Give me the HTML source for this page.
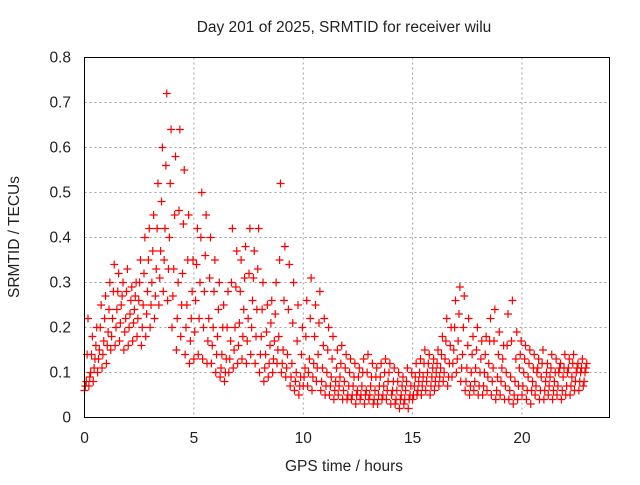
<!DOCTYPE html>
<html><head><meta charset="utf-8"><style>
body{margin:0;background:#fff;}
svg text{font-family:"Liberation Sans",sans-serif;font-size:15.5px;fill:#222;}
</style></head><body>
<svg id="c" width="640" height="480" xmlns="http://www.w3.org/2000/svg">
<text x="344" y="32" text-anchor="middle">Day 201 of 2025, SRMTID for receiver wilu</text>
<text x="344" y="471" text-anchor="middle">GPS time / hours</text>
<text transform="translate(19,237) rotate(-90)" text-anchor="middle">SRMTID / TECUs</text>
<g id="grid"></g><g id="marks"></g>
<rect x="84.5" y="57.5" width="525" height="360" fill="none" stroke="#000" stroke-width="1"/>
</svg>
<script>
const xTicks=[0,5,10,15,20];
const yTicks=[0,0.1,0.2,0.3,0.4,0.5,0.6,0.7,0.8];
const yLabels=["0","0.1","0.2","0.3","0.4","0.5","0.6","0.7","0.8"];
const hours=[];for(let i=0;i<115;i++)hours.push(+(i*0.2).toFixed(2));
const low=[.06,.07,.08,.10,.11,.12,.15,.16,.17,.15,.16,.17,.18,.16,.18,.20,.22,.25,.28,.26,.20,.15,.18,.14,.12,.13,.14,.13,.12,.12,.10,.09,.08,.10,.11,.12,.13,.12,.14,.12,.10,.08,.09,.10,.12,.10,.09,.07,.06,.05,.07,.07,.06,.08,.06,.05,.05,.04,.05,.04,.04,.04,.03,.04,.03,.04,.03,.03,.04,.04,.03,.03,.02,.03,.02,.04,.05,.05,.06,.05,.06,.07,.08,.07,.09,.10,.08,.06,.05,.06,.05,.05,.06,.05,.04,.05,.04,.04,.03,.04,.05,.04,.03,.05,.04,.04,.05,.04,.05,.04,.05,.05,.06,.06,.07];
const q1=[.07,.09,.11,.13,.14,.16,.18,.20,.21,.19,.20,.21,.22,.20,.23,.25,.27,.31,.35,.33,.27,.22,.25,.20,.17,.19,.22,.20,.17,.16,.14,.11,.10,.13,.15,.16,.18,.17,.20,.18,.14,.11,.12,.13,.15,.12,.11,.09,.08,.07,.09,.10,.09,.11,.08,.07,.07,.06,.07,.06,.05,.05,.05,.05,.05,.05,.04,.05,.05,.06,.05,.04,.04,.04,.04,.05,.06,.07,.08,.07,.08,.09,.10,.09,.12,.13,.11,.08,.07,.08,.07,.07,.09,.08,.06,.08,.07,.06,.05,.07,.07,.06,.06,.07,.06,.06,.07,.06,.07,.06,.07,.07,.08,.08,.08];
const mid=[.08,.10,.13,.15,.17,.19,.22,.24,.25,.22,.23,.24,.26,.25,.28,.30,.33,.37,.42,.40,.33,.30,.32,.25,.22,.26,.30,.28,.22,.20,.18,.14,.13,.17,.20,.21,.24,.22,.26,.24,.18,.14,.16,.17,.18,.15,.14,.12,.10,.09,.11,.13,.12,.14,.11,.10,.09,.08,.09,.08,.07,.07,.06,.07,.06,.07,.06,.07,.07,.08,.06,.06,.05,.06,.05,.07,.08,.09,.10,.09,.10,.11,.13,.12,.15,.17,.14,.11,.10,.11,.10,.10,.12,.11,.09,.11,.10,.09,.08,.11,.10,.09,.08,.10,.09,.08,.09,.08,.10,.09,.10,.09,.10,.10,.10];
const q3=[.14,.14,.16,.20,.22,.24,.28,.28,.27,.28,.26,.27,.30,.32,.35,.37,.42,.48,.56,.52,.45,.46,.43,.35,.28,.34,.40,.36,.31,.28,.24,.20,.20,.30,.29,.28,.31,.32,.31,.33,.24,.19,.21,.23,.35,.26,.24,.21,.17,.14,.18,.22,.18,.21,.16,.15,.13,.11,.12,.11,.10,.09,.09,.10,.10,.09,.09,.09,.10,.10,.08,.08,.07,.08,.07,.09,.10,.12,.12,.11,.12,.14,.17,.16,.20,.23,.20,.16,.14,.15,.13,.14,.17,.17,.14,.13,.16,.17,.13,.14,.13,.12,.11,.11,.12,.10,.11,.10,.11,.11,.11,.12,.11,.11,.11];
const high=[.22,.18,.20,.25,.27,.30,.34,.32,.30,.33,.29,.30,.35,.40,.42,.45,.52,.60,.72,.64,.58,.64,.55,.45,.35,.42,.50,.45,.40,.35,.30,.25,.28,.42,.37,.35,.38,.42,.37,.42,.30,.25,.26,.30,.52,.38,.34,.30,.25,.20,.26,.31,.25,.28,.22,.20,.18,.15,.16,.14,.13,.12,.11,.13,.14,.12,.11,.12,.13,.12,.11,.10,.09,.11,.10,.12,.13,.15,.14,.13,.15,.18,.22,.20,.26,.29,.27,.22,.18,.20,.17,.18,.22,.24,.19,.16,.23,.26,.19,.17,.16,.15,.14,.13,.15,.12,.14,.13,.12,.14,.13,.14,.12,.13,.12];
const X=h=>84.5+h*525/24, Y=v=>417.5-v*450;
const NS="http://www.w3.org/2000/svg", svg=document.getElementById('c');
const grid=document.getElementById('grid'), marks=document.getElementById('marks');
function el(t,a,p){const e=document.createElementNS(NS,t);for(const k in a)e.setAttribute(k,a[k]);p.appendChild(e);return e;}
xTicks.forEach(t=>{const x=X(t);
 if(t>0){const g=el('line',{x1:x,x2:x,y1:57.5,y2:417.5,stroke:'#a0a0a0','stroke-dasharray':'2,3'},grid);
 
 }
 const tx=el('text',{x:x,y:443,'text-anchor':'middle'},svg);tx.textContent=t;
 
 });
yTicks.forEach((t,i)=>{const y=Y(t);
 if(t>0&&t<0.8){const g=el('line',{x1:84.5,x2:609.5,y1:y,y2:y,stroke:'#a0a0a0','stroke-dasharray':'2,3'},grid);
 
 }
 const tx=el('text',{x:71,y:y+5,'text-anchor':'end'},svg);tx.textContent=yLabels[i];
 
 });
function cross(h,v,col){const x=X(h),y=Y(v);
 const p=el('path',{d:`M${x-4},${y}h8M${x},${y-4}v8`,stroke:col,'stroke-width':1.2},marks);
 
 }
[[low,0],[q1,0.04],[mid,0.08],[q3,0.12],[high,0.16]].forEach(([s,o])=>{
 hours.forEach((h,i)=>{cross(h+o,s[i],'#ff0000');});});
</script>
</body></html>
